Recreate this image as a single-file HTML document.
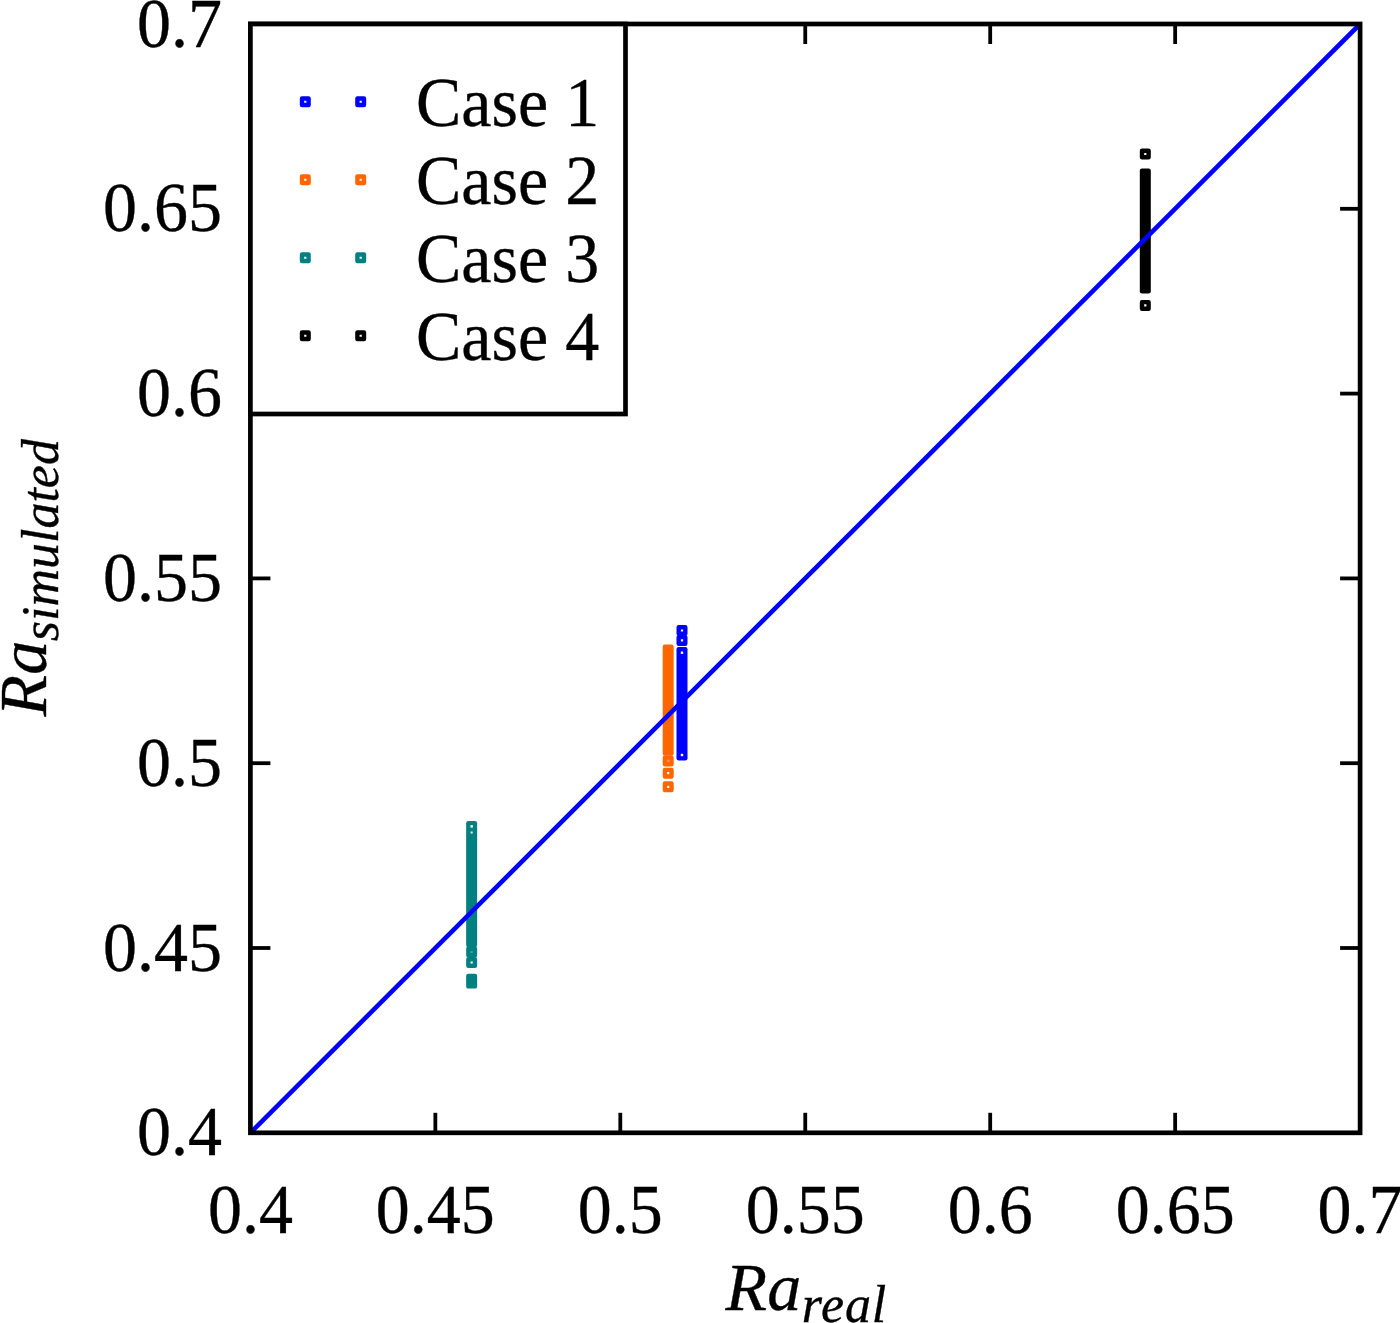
<!DOCTYPE html>
<html lang="en">
<head>
<meta charset="utf-8">
<title>Ra simulated vs Ra real</title>
<style>
html,body{margin:0;padding:0;background:#fff;}
body{width:1400px;height:1323px;overflow:hidden;}
svg{display:block;filter:blur(0.45px);}
text{font-family:"Liberation Serif","Times New Roman",Times,serif;fill:#000;stroke:#000;stroke-width:0.35px;}
.t{font-size:68px;}
.i{font-style:italic;}
.s{font-size:52px;font-style:italic;}
.r{letter-spacing:0.9px;}
.m{fill:none;stroke-width:4.4;stroke-linejoin:round;}
</style>
</head>
<body>
<svg width="1400" height="1323" viewBox="0 0 1400 1323">
<rect x="0" y="0" width="1400" height="1323" fill="#ffffff"/>
<g fill="#008080"><rect x="466.15" y="821.00" width="11.00" height="126.30" rx="2.20"/><rect x="466.15" y="973.70" width="11.00" height="14.90" rx="2.20"/></g>
<g class="m" stroke="#008080"><rect x="468.35" y="948.70" width="6.6" height="6.6"/><rect x="468.35" y="959.20" width="6.6" height="6.6"/></g>
<g fill="#fff"><rect x="470.15" y="950.50" width="3.00" height="3.00" fill="#008080" fill-opacity="0.75"/><rect x="470.45" y="825.20" width="2.40" height="2.40" fill-opacity="1.00"/><rect x="470.60" y="831.45" width="2.10" height="2.10" fill-opacity="0.85"/></g>
<g fill="#ff6600"><rect x="662.70" y="644.50" width="11.00" height="111.30" rx="2.20"/></g>
<g class="m" stroke="#ff6600"><rect x="664.90" y="757.60" width="6.6" height="6.6"/><rect x="664.90" y="769.90" width="6.6" height="6.6"/><rect x="664.90" y="783.50" width="6.6" height="6.6"/></g>
<g fill="#fff"><rect x="666.70" y="759.40" width="3.00" height="3.00" fill="#ff6600" fill-opacity="0.70"/></g>
<g fill="#0000ff"><rect x="676.50" y="647.00" width="11.00" height="113.40" rx="2.20"/></g>
<g class="m" stroke="#0000ff"><rect x="678.70" y="627.20" width="6.6" height="6.6"/><rect x="678.70" y="637.10" width="6.6" height="6.6"/></g>
<g fill="#fff"><rect x="680.80" y="651.50" width="2.40" height="2.40" fill-opacity="1.00"/><rect x="680.80" y="753.80" width="2.40" height="2.40" fill-opacity="1.00"/></g>
<g fill="#000000"><rect x="1139.80" y="168.50" width="11.00" height="124.90" rx="2.20"/></g>
<g class="m" stroke="#000000"><rect x="1142.00" y="150.70" width="6.6" height="6.6"/><rect x="1142.00" y="302.10" width="6.6" height="6.6"/></g>
<g fill="#fff"></g>
<line x1="250.4" y1="1132.8" x2="1360.1" y2="24.0" stroke="#0000ff" stroke-width="4.6"/>
<g stroke="#000" stroke-width="3.8">
<line x1="435.35" y1="1132.80" x2="435.35" y2="1112.80"/><line x1="435.35" y1="24.00" x2="435.35" y2="44.00"/><line x1="250.40" y1="948.00" x2="270.40" y2="948.00"/><line x1="1360.10" y1="948.00" x2="1340.10" y2="948.00"/>
<line x1="620.30" y1="1132.80" x2="620.30" y2="1112.80"/><line x1="620.30" y1="24.00" x2="620.30" y2="44.00"/><line x1="250.40" y1="763.20" x2="270.40" y2="763.20"/><line x1="1360.10" y1="763.20" x2="1340.10" y2="763.20"/>
<line x1="805.25" y1="1132.80" x2="805.25" y2="1112.80"/><line x1="805.25" y1="24.00" x2="805.25" y2="44.00"/><line x1="250.40" y1="578.40" x2="270.40" y2="578.40"/><line x1="1360.10" y1="578.40" x2="1340.10" y2="578.40"/>
<line x1="990.20" y1="1132.80" x2="990.20" y2="1112.80"/><line x1="990.20" y1="24.00" x2="990.20" y2="44.00"/><line x1="250.40" y1="393.60" x2="270.40" y2="393.60"/><line x1="1360.10" y1="393.60" x2="1340.10" y2="393.60"/>
<line x1="1175.15" y1="1132.80" x2="1175.15" y2="1112.80"/><line x1="1175.15" y1="24.00" x2="1175.15" y2="44.00"/><line x1="250.40" y1="208.80" x2="270.40" y2="208.80"/><line x1="1360.10" y1="208.80" x2="1340.10" y2="208.80"/>
</g>
<rect x="250.4" y="24.0" width="1109.70" height="1108.80" fill="none" stroke="#000" stroke-width="4.7"/>
<rect x="250.4" y="24.0" width="375.10" height="390.00" fill="#fff" stroke="#000" stroke-width="4.7"/>
<g class="m" stroke="#0000ff"><rect x="302.00" y="98.45" width="6.6" height="6.6"/><rect x="357.40" y="98.45" width="6.6" height="6.6"/></g>
<text class="t" transform="translate(416.00,125.70) scale(1,1.027)">Case 1</text>
<g class="m" stroke="#ff6600"><rect x="302.00" y="176.45" width="6.6" height="6.6"/><rect x="357.40" y="176.45" width="6.6" height="6.6"/></g>
<text class="t" transform="translate(416.00,203.70) scale(1,1.027)">Case 2</text>
<g class="m" stroke="#008080"><rect x="302.00" y="254.45" width="6.6" height="6.6"/><rect x="357.40" y="254.45" width="6.6" height="6.6"/></g>
<text class="t" transform="translate(416.00,281.70) scale(1,1.027)">Case 3</text>
<g class="m" stroke="#000000"><rect x="302.00" y="332.45" width="6.6" height="6.6"/><rect x="357.40" y="332.45" width="6.6" height="6.6"/></g>
<text class="t" transform="translate(416.00,359.70) scale(1,1.027)">Case 4</text>
<text class="t" text-anchor="middle" transform="translate(250.40,1233.20) scale(1,1.027)">0.4</text>
<text class="t" text-anchor="middle" transform="translate(435.35,1233.20) scale(1,1.027)">0.45</text>
<text class="t" text-anchor="middle" transform="translate(620.30,1233.20) scale(1,1.027)">0.5</text>
<text class="t" text-anchor="middle" transform="translate(805.25,1233.20) scale(1,1.027)">0.55</text>
<text class="t" text-anchor="middle" transform="translate(990.20,1233.20) scale(1,1.027)">0.6</text>
<text class="t" text-anchor="middle" transform="translate(1175.15,1233.20) scale(1,1.027)">0.65</text>
<text class="t" text-anchor="middle" transform="translate(1360.10,1233.20) scale(1,1.027)">0.7</text>
<text class="t" text-anchor="end" transform="translate(222.00,1155.40) scale(1,1.027)">0.4</text>
<text class="t" text-anchor="end" transform="translate(222.00,970.60) scale(1,1.027)">0.45</text>
<text class="t" text-anchor="end" transform="translate(222.00,785.80) scale(1,1.027)">0.5</text>
<text class="t" text-anchor="end" transform="translate(222.00,601.00) scale(1,1.027)">0.55</text>
<text class="t" text-anchor="end" transform="translate(222.00,416.20) scale(1,1.027)">0.6</text>
<text class="t" text-anchor="end" transform="translate(222.00,231.40) scale(1,1.027)">0.65</text>
<text class="t" text-anchor="end" transform="translate(222.00,46.60) scale(1,1.027)">0.7</text>
<text class="t i" transform="translate(725.6,1310.3) scale(1,1.01)">Ra<tspan class="s r" dx="0.6" dy="11.3">real</tspan></text>
<text class="t i" transform="translate(46.3,716.4) rotate(-90) scale(1,1.01)">Ra<tspan class="s" dx="-0.4" dy="11.3">simulated</tspan></text>
</svg>
</body>
</html>
